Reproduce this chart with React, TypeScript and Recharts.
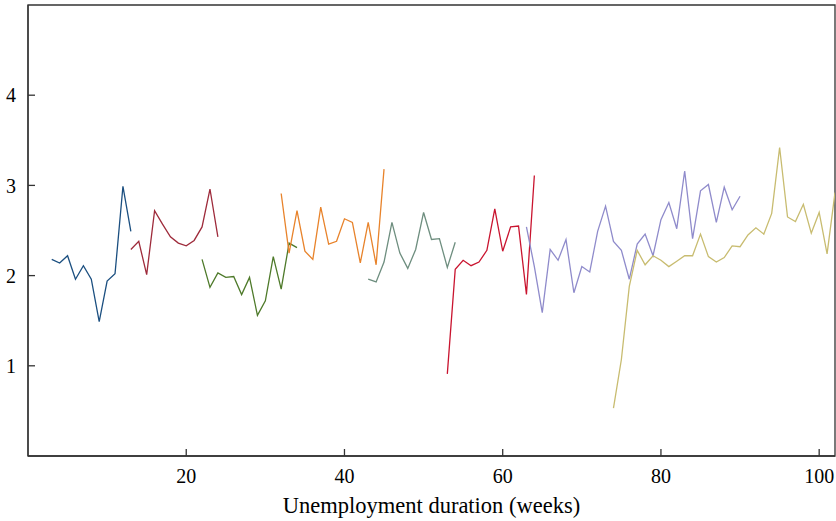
import { LineChart, Line, XAxis, YAxis, ReferenceArea } from 'recharts';

// each spell: first week + weekly values
const blueStart = 3;
const blueValues = [2.18, 2.14, 2.22, 1.96, 2.11, 1.96, 1.49, 1.94, 2.02, 2.99, 2.49];

const maroonStart = 13;
const maroonValues = [2.29, 2.38, 2.01, 2.72, 2.57, 2.43, 2.36, 2.33, 2.39, 2.54, 2.96, 2.43];

const greenStart = 22;
const greenValues = [2.18, 1.87, 2.03, 1.98, 1.99, 1.79, 1.98, 1.56, 1.72, 2.21, 1.85, 2.36, 2.31];

const orangeStart = 32;
const orangeValues = [2.91, 2.25, 2.72, 2.27, 2.18, 2.76, 2.35, 2.38, 2.63, 2.59, 2.14, 2.59, 2.12, 3.18];

const sageStart = 43;
const sageValues = [1.96, 1.93, 2.15, 2.59, 2.25, 2.08, 2.29, 2.7, 2.4, 2.41, 2.09, 2.37];

const redStart = 53;
const redValues = [0.91, 2.07, 2.17, 2.11, 2.15, 2.28, 2.74, 2.27, 2.54, 2.55, 1.79, 3.11];

const lavenderStart = 63;
const lavenderValues = [
  2.54, 2.1, 1.59, 2.29, 2.17, 2.4, 1.81, 2.1, 2.04, 2.49, 2.77, 2.38, 2.28, 1.96,
  2.35, 2.46, 2.22, 2.62, 2.81, 2.52, 3.16, 2.41, 2.94, 3.01, 2.59, 2.98, 2.73, 2.88,
];

const khakiStart = 74;
const khakiValues = [
  0.53, 1.07, 1.88, 2.28, 2.12, 2.22, 2.17, 2.1, 2.16, 2.22, 2.22, 2.46, 2.21, 2.15,
  2.2, 2.33, 2.32, 2.45, 2.53, 2.46, 2.69, 3.42, 2.65, 2.6, 2.79, 2.47, 2.7, 2.24, 2.92,
];

const xTicks = [20, 40, 60, 80, 100];
const yTicks = [1, 2, 3, 4];

const toRows = (start: number, values: number[]) =>
  values.map((v, i) => ({ week: start + i, v }));

const series = [
  { name: 'blue', color: '#1b4f80', rows: toRows(blueStart, blueValues) },
  { name: 'maroon', color: '#9e2b3b', rows: toRows(maroonStart, maroonValues) },
  { name: 'green', color: '#4e7a2a', rows: toRows(greenStart, greenValues) },
  { name: 'orange', color: '#e8832b', rows: toRows(orangeStart, orangeValues) },
  { name: 'sage', color: '#6e8e7f', rows: toRows(sageStart, sageValues) },
  { name: 'red', color: '#c9142f', rows: toRows(redStart, redValues) },
  { name: 'lavender', color: '#8f8bcb', rows: toRows(lavenderStart, lavenderValues) },
  { name: 'khaki', color: '#c8bc70', rows: toRows(khakiStart, khakiValues) },
];

const font = '"Liberation Serif", "Times New Roman", serif';
const axisColor = '#333';

export default function App() {
  return (
    <div style={{ position: 'absolute', left: 0, top: 0, background: '#fff' }}>
      <LineChart width={836} height={521} margin={{ top: 5, right: 1, left: 0, bottom: 0 }}>
        <XAxis
          dataKey="week"
          type="number"
          domain={[0, 102]}
          ticks={xTicks}
          allowDataOverflow
          height={65}
          tickSize={-7}
          tickMargin={20}
          stroke={axisColor}
          strokeWidth={1.3}
          tick={{ fill: '#000', fontSize: 20, fontFamily: font }}
          label={{
            value: 'Unemployment duration (weeks)',
            position: 'insideBottom',
            offset: 8,
            fill: '#000',
            fontSize: 22.5,
            fontFamily: font,
          }}
        />
        <YAxis
          type="number"
          domain={[0, 5]}
          ticks={yTicks}
          allowDataOverflow
          width={28}
          tickSize={-7}
          tickMargin={19}
          stroke={axisColor}
          strokeWidth={1.3}
          tick={{ fill: '#000', fontSize: 20, fontFamily: font }}
        />
        <ReferenceArea x1={0} x2={102} y1={0} y2={5} fill="none" stroke={axisColor} strokeWidth={1.3} />
        {series.map((s) => (
          <Line
            key={s.name}
            data={s.rows}
            dataKey="v"
            stroke={s.color}
            strokeWidth={1.3}
            dot={false}
            activeDot={false}
            isAnimationActive={false}
          />
        ))}
      </LineChart>
    </div>
  );
}
